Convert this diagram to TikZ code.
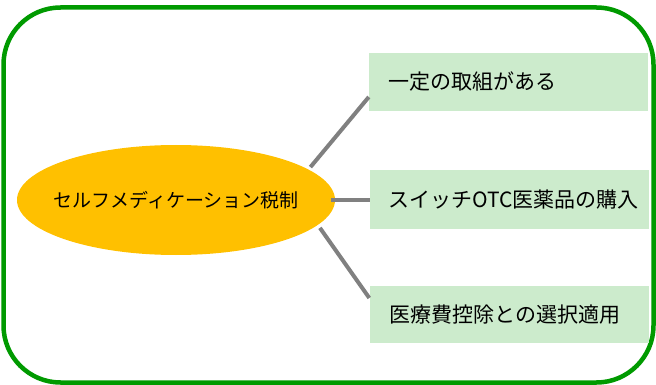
\documentclass[tikz,border=0pt]{standalone}
\usepackage{fontspec}
\newfontfamily\jp{Noto Sans CJK JP}
\usetikzlibrary{shapes.geometric}
\definecolor{frameg}{HTML}{009A00}
\definecolor{boxg}{HTML}{CCEBCC}
\definecolor{ellg}{HTML}{FFC000}
\definecolor{conng}{HTML}{808080}
\tikzset{
  frame/.style={draw=frameg, line width=4.5pt, rounded corners=57pt},
  hub/.style={ellipse, fill=ellg, inner sep=0pt, minimum width=318pt, minimum height=110pt, font=\jp\fontsize{19pt}{23pt}\selectfont},
  itembox/.style={rectangle, fill=boxg, inner sep=0pt, minimum width=279pt, minimum height=58pt},
  itemtext/.style={anchor=west, inner sep=0pt, font=\jp\fontsize{21pt}{25pt}\selectfont},
  conn/.style={draw=conng, line width=4pt},
}
\begin{document}
\begin{tikzpicture}[x=1pt,y=-1pt]
\useasboundingbox (0,0) rectangle (656,385);
\draw[frame] (3.5,7.5) rectangle (653.5,382.5);
\node[hub] (hub) at (176,200) {\makebox[0pt]{セルフメディケーション税制}};
\node[itembox] (b1) at (508.5,82) {};
\node[itembox] (b2) at (509.5,199.5) {};
\node[itembox, minimum height=57pt] (b3) at (509,314.5) {};
\node[itemtext] (t1) at ([xshift=19pt]b1.west) {一定の取組がある};
\node[itemtext] (t2) at ([xshift=18pt]b2.west) {スイッチOTC医薬品の購入};
\node[itemtext] (t3) at ([xshift=20pt]b3.west) {医療費控除との選択適用};
\draw[conn, shorten >=3pt] ([yshift=-15pt]b1.west) -- (hub.13);
\draw[conn, shorten >=-4pt] (b2.west) -- (b2.west -| hub.east);
\draw[conn, shorten >=3.5pt] ([yshift=16.5pt]b3.west) -- (hub.-10);
\end{tikzpicture}
\end{document}
